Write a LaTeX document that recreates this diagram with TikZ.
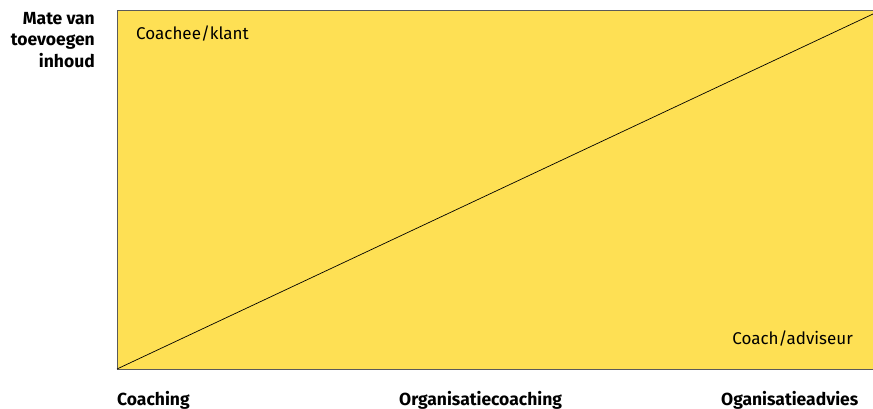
\documentclass[tikz,border=0pt]{standalone}
\usepackage{fontspec}
\setmainfont{Fira Sans}
\definecolor{boxfill}{RGB}{254,224,84}
\definecolor{boxline}{RGB}{90,90,90}
\begin{document}
\begin{tikzpicture}[x=1pt,y=-1pt,
  lbl/.style={inner sep=0pt,font=\fontsize{17}{21.5}\selectfont},
  axislbl/.style={inner sep=0pt,font=\fontsize{17.5}{21.5}\selectfont\bfseries}]
\useasboundingbox (0,0) rectangle (873,408);
\fill[boxfill] (117,10) rectangle (880,369);
\draw[boxline,line width=1pt] (117,369) -- (117,10) -- (880,10);
\draw[boxline,line width=1pt] (117,369.5) -- (880,369.5);
\coordinate (bl) at (117,369);
\coordinate (tr) at (873,14);
\draw[black,line width=0.7pt] (bl) -- (tr);
\node[axislbl,anchor=base east,align=right] (yl) at (95,67) {Mate van\\toevoegen\\inhoud};
\node[lbl,anchor=base west] (klant) at (136,39) {Coachee/klant};
\node[lbl,anchor=base east] (coach) at (853,344) {Coach/adviseur};
\node[axislbl,anchor=base west] (c1) at (117,405) {Coaching};
\node[axislbl,anchor=base west] (c2) at (399,405) {Organisatiecoaching};
\node[axislbl,anchor=base west] (c3) at (721,405) {Oganisatieadvies};
\end{tikzpicture}
\end{document}
